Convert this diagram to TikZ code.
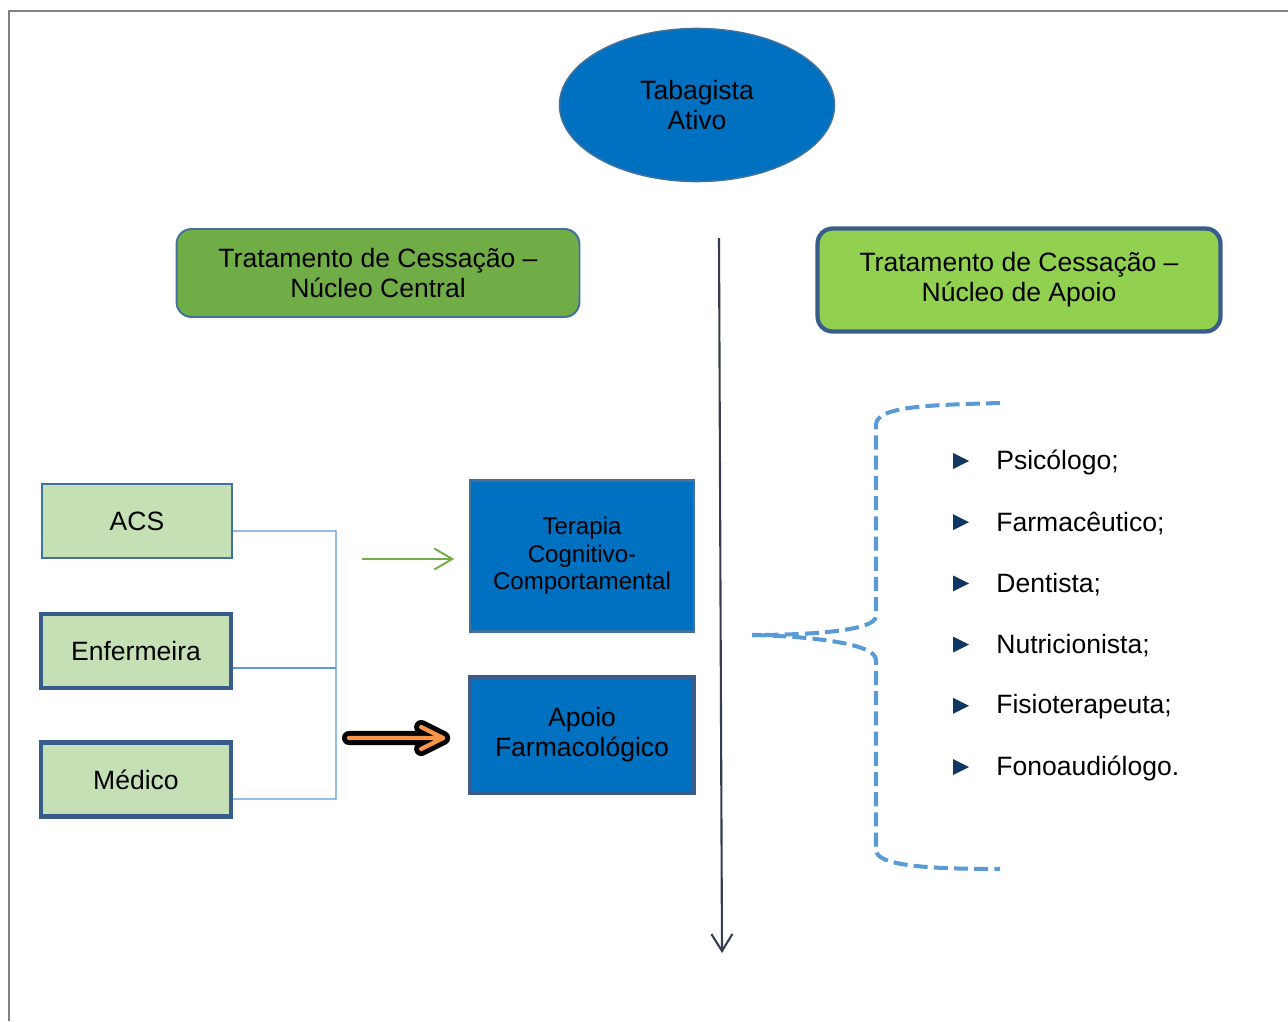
\documentclass[tikz,border=0pt]{standalone}
\usepackage{fontspec}
\setmainfont{Liberation Sans}
\usepackage{tikz}
\usetikzlibrary{shapes.geometric,arrows.meta,positioning}
\definecolor{fillblue}{RGB}{0,112,192}
\definecolor{edgeblue}{RGB}{65,113,156}
\definecolor{darkedge}{RGB}{56,93,138}
\definecolor{headgreen}{RGB}{112,173,71}
\definecolor{limegreen}{RGB}{146,208,80}
\definecolor{palegreen}{RGB}{197,224,180}
\definecolor{linkblue}{RGB}{91,155,213}
\definecolor{slate}{RGB}{51,63,80}
\definecolor{navy}{RGB}{16,55,100}
\definecolor{arrorange}{RGB}{247,150,70}
\tikzset{
  txt/.style={font=\fontsize{15.1}{17}\selectfont, align=center, text=black},
  headbox/.style={txt, rectangle, rounded corners=0.3cm, inner sep=0pt,
                  minimum width=8.06cm, fill=#1},
  profbox/.style={txt, rectangle, inner sep=0pt, minimum width=3.8cm,
                  minimum height=1.48cm, fill=palegreen},
  treatbox/.style={txt, rectangle, inner sep=0pt, minimum width=4.47cm,
                   fill=fillblue},
  conn/.style={draw=linkblue, line width=0.7pt},
  brace/.style={draw=linkblue, line width=2.3pt, dash pattern=on 8pt off 3.5pt},
  bullet/.style={txt, anchor=west, inner sep=0pt},
}
\begin{document}
\begin{tikzpicture}[x=0.02cm,y=-0.02cm]
  \useasboundingbox (0,0) rectangle (1288,1021);
  % frame
  \draw[gray, line width=1.2pt] (9,1021) -- (9,11) -- (1288,11);
  % top
  \node[txt, ellipse, inner sep=0pt, minimum width=5.5cm, minimum height=3.06cm,
        fill=fillblue, draw=edgeblue, line width=0.9pt] (tab) at (697,105) {Tabagista\\Ativo};
  \node[headbox=headgreen, draw=edgeblue, line width=1.1pt, minimum height=1.76cm]
        (central) at (378,273) {Tratamento de Cessação --\\Núcleo Central};
  \node[headbox=limegreen, draw=darkedge, line width=2.4pt, minimum height=2.06cm]
        (apoio) at (1019,280) {Tratamento de Cessação --\\Núcleo de Apoio};
  \coordinate (axtop) at (719,238);
  \coordinate (axbot) at (722,953);
  \draw[slate, line width=1.2pt, -{Straight Barb[length=0.34cm,width=0.42cm]}] (axtop) -- (axbot);
  % professionals
  \node[profbox, draw=edgeblue, line width=1.2pt] (acs) at (137,521) {ACS};
  \node[profbox, draw=darkedge, line width=2.4pt] (enf) at (136,651) {Enfermeira};
  \node[profbox, draw=darkedge, line width=2.4pt] (med) at (136,779.5) {Médico};
  \coordinate (trunk) at (336,531);
  \draw[conn] ([yshift=-0.2cm]acs.east) -- (trunk) |- ([yshift=-0.39cm]med.east);
  \draw[conn] ([yshift=-0.34cm]enf.east) -- ([yshift=-0.34cm]enf.east -| trunk);
  % treatments
  \node[treatbox, draw=edgeblue, line width=1.2pt, minimum height=3.02cm,
        font=\fontsize{13.7}{15.6}\selectfont] (tcc) at (582,556) {Terapia\\Cognitivo-\\Comportamental};
  \node[treatbox, draw=darkedge, line width=2.4pt, minimum height=2.32cm] (farm) at (582,735) {Apoio\\Farmacológico};
  \coordinate (gstart) at (362,559);
  \coordinate (gend) at ([xshift=-0.3cm]tcc.west |- gstart);
  \draw[headgreen, line width=1.1pt, -{Straight Barb[length=0.36cm,width=0.42cm]}]
        (gstart) -- (gend);
  \coordinate (fstart) at (349,738);
  \coordinate (fend) at ([xshift=-0.5cm]farm.west |- fstart);
  \draw[black, line width=8pt, line cap=round, line join=round]
        (fstart) -- (fend) ++(-22,-11) -- (fend) -- ++(-22,11);
  \draw[arrorange, line width=2.4pt, line cap=round, line join=round]
        (fstart) -- (fend) ++(-22,-11) -- (fend) -- ++(-22,11);
  % brace
  \draw[brace] (1000,403) .. controls (930,405) and (876,406) .. (876,425) -- (876,616)
        .. controls (876,632) and (800,635) .. (752,635);
  \draw[brace] (752,635) .. controls (800,636) and (876,642) .. (876,660) -- (876,850)
        .. controls (876,866) and (930,869) .. (1000,869);
  % support list
  \foreach \name [count=\i from 0] in {Psicólogo;,Farmacêutico;,Dentista;,Nutricionista;,Fisioterapeuta;,Fonoaudiólogo.} {
    \fill[navy] (953,453+61.2*\i) -- (969,461+61.2*\i) -- (953,469+61.2*\i) -- cycle;
    \node[bullet] (prof\i) at (996,462+61.2*\i) {\name};
  }
\end{tikzpicture}
\end{document}
